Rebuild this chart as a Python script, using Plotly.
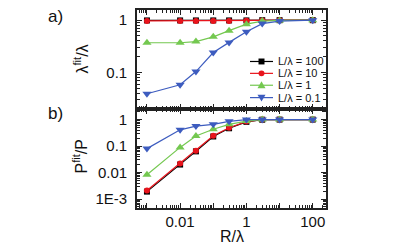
import plotly.graph_objects as go

# ---------------- data ----------------
R = [0.001, 0.01, 0.03, 0.1, 0.3, 1, 3, 10, 100]
series_names = ["L/λ = 100", "L/λ = 10", "L/λ = 1", "L/λ = 0.1"]

lam_100 = [0.99, 0.99, 0.99, 0.99, 0.99, 0.99, 1.0, 1.0, 1.0]
lam_10 = [0.97, 0.97, 0.97, 0.97, 0.97, 0.98, 0.99, 1.0, 1.0]
lam_1 = [0.37, 0.37, 0.39, 0.48, 0.63, 0.84, 0.96, 0.99, 1.0]
lam_01 = [0.039, 0.058, 0.104, 0.24, 0.376, 0.6, 0.86, 0.96, 1.0]

P_100 = [0.0019, 0.020, 0.063, 0.23, 0.47, 0.82, 0.99, 1.0, 1.0]
P_10 = [0.0021, 0.022, 0.067, 0.245, 0.49, 0.84, 1.0, 1.0, 1.0]
P_1 = [0.0083, 0.089, 0.24, 0.43, 0.66, 0.88, 1.0, 1.0, 1.0]
P_01 = [0.08, 0.41, 0.57, 0.66, 0.86, 1.0, 1.0, 1.0, 1.0]

x_major = [0.001, 0.01, 0.1, 1, 10, 100]
x_labelvals = [0.01, 1, 100]
x_labeltext = ["0.01", "1", "100"]
ytop_tickvals = [0.1, 1]
ytop_ticktext = ["0.1", "1"]
ybot_tickvals = [0.001, 0.01, 0.1, 1]
ybot_ticktext = ["1E-3", "0.01", "0.1", "1"]

# ---------------- style ----------------
colors = ["#000000", "#e8141c", "#74c850", "#3d5cbf"]
symbols = ["square", "circle", "triangle-up", "triangle-down"]
msizes = [6, 6, 8, 8]
FONT = "Arial, Liberation Sans, sans-serif"
AX = "#222222"

OFF = 8  # page body margin offset
W, H = 415 - OFF, 248 - OFF
ML, MT = 137 - OFF, 8 - OFF
PW, PH = 189, 200
MR, MB = W - ML - PW, H - MT - PH


def px(xp):  # window pixel -> paper
    return (xp - OFF - ML) / PW


def py(yp):
    return (MT + PH - (yp - OFF)) / PH


fig = go.Figure()
top_series = [lam_100, lam_10, lam_1, lam_01]
bot_series = [P_100, P_10, P_1, P_01]
for i in range(4):
    fig.add_trace(go.Scatter(
        x=R, y=top_series[i], mode="lines+markers", name=series_names[i],
        line=dict(color=colors[i], width=1.2),
        marker=dict(symbol=symbols[i], size=msizes[i], color=colors[i],
                    line=dict(width=0)),
        xaxis="x", yaxis="y", showlegend=False))
for i in range(4):
    fig.add_trace(go.Scatter(
        x=R, y=bot_series[i], mode="lines+markers", name=series_names[i],
        line=dict(color=colors[i], width=1.2),
        marker=dict(symbol=symbols[i], size=msizes[i], color=colors[i],
                    line=dict(width=0)),
        xaxis="x2", yaxis="y2", showlegend=False))

common_axis = dict(
    type="log", showgrid=False, zeroline=False, showline=True,
    linecolor=AX, linewidth=1.6, mirror="ticks",
    ticks="inside", ticklen=5, tickwidth=1.2, tickcolor=AX,
    minor=dict(ticks="inside", ticklen=3, tickwidth=1, tickcolor=AX,
               showgrid=False, dtick="D1"),
    tickfont=dict(family=FONT, size=15, color="#111111"),
)

fig.update_layout(
    width=W, height=H,
    margin=dict(l=ML, r=MR, t=MT, b=MB, pad=0),
    paper_bgcolor="white", plot_bgcolor="white",
    showlegend=False,
    xaxis=dict(common_axis, domain=[0, 1], anchor="y", range=[-3.3, 2.4],
               tickmode="array", tickvals=x_major, showticklabels=False),
    yaxis=dict(common_axis, domain=[0.5, 1], anchor="x", range=[-1.70, 0.195],
               tickmode="array", tickvals=ytop_tickvals, ticktext=ytop_ticktext,
               ticklabelstandoff=5),
    xaxis2=dict(common_axis, domain=[0, 1], anchor="y2", range=[-3.3, 2.4],
                tickmode="array", tickvals=x_major, showticklabels=False),
    xaxis3=dict(type="log", overlaying="x2", anchor="y2", side="bottom",
                range=[-3.3, 2.4], showgrid=False, zeroline=False, showline=False,
                ticks="", tickmode="array", tickvals=x_labelvals, ticktext=x_labeltext,
                tickfont=dict(family=FONT, size=15, color="#111111"),
                ticklabelstandoff=3),
    yaxis2=dict(common_axis, domain=[0, 0.5], anchor="x2", range=[-3.34, 0.40],
                tickmode="array", tickvals=ybot_tickvals, ticktext=ybot_ticktext,
                ticklabelstandoff=5),
)
# dummy trace to activate label axis (uses the data's own x values)
fig.add_trace(go.Scatter(x=R, y=P_100, mode="none", xaxis="x3", yaxis="y2",
                         showlegend=False, hoverinfo="skip"))

ann = []
ann.append(dict(text="λ<sup>fit</sup>/λ", x=px(81), y=py(58), xref="paper", yref="paper",
                textangle=-90, showarrow=False, font=dict(family=FONT, size=16, color="#111"),
                xanchor="center", yanchor="middle"))
ann.append(dict(text="P<sup>fit</sup>/P", x=px(80), y=py(156), xref="paper", yref="paper",
                textangle=-90, showarrow=False, font=dict(family=FONT, size=16, color="#111"),
                xanchor="center", yanchor="middle"))
ann.append(dict(text="R/λ", x=px(232), y=py(237), xref="paper", yref="paper",
                showarrow=False, font=dict(family=FONT, size=16, color="#111"),
                xanchor="center", yanchor="middle"))
ann.append(dict(text="a)", x=px(55), y=py(15), xref="paper", yref="paper",
                showarrow=False, font=dict(family=FONT, size=17, color="#111"),
                xanchor="center", yanchor="middle"))
ann.append(dict(text="b)", x=px(55), y=py(113), xref="paper", yref="paper",
                showarrow=False, font=dict(family=FONT, size=17, color="#111"),
                xanchor="center", yanchor="middle"))

# manual compact legend
shapes = []
rows = [60, 72, 84, 96.5]
for i in range(4):
    yc = rows[i]
    shapes.append(dict(type="line", xref="paper", yref="paper",
                       x0=px(250), x1=px(273), y0=py(yc), y1=py(yc),
                       line=dict(color=colors[i], width=1.2)))
    mx = 261.5
    s = 3
    if symbols[i] == "square":
        shapes.append(dict(type="rect", xref="paper", yref="paper",
                           x0=px(mx - s), x1=px(mx + s), y0=py(yc - s), y1=py(yc + s),
                           fillcolor=colors[i], line=dict(width=0)))
    elif symbols[i] == "circle":
        shapes.append(dict(type="circle", xref="paper", yref="paper",
                           x0=px(mx - s), x1=px(mx + s), y0=py(yc - s), y1=py(yc + s),
                           fillcolor=colors[i], line=dict(width=0)))
    elif symbols[i] == "triangle-up":
        path = "M %f %f L %f %f L %f %f Z" % (px(mx - 4), py(yc + 3), px(mx + 4), py(yc + 3),
                                              px(mx), py(yc - 4))
        shapes.append(dict(type="path", xref="paper", yref="paper", path=path,
                           fillcolor=colors[i], line=dict(width=0)))
    else:
        path = "M %f %f L %f %f L %f %f Z" % (px(mx - 4), py(yc - 3), px(mx + 4), py(yc - 3),
                                              px(mx), py(yc + 4))
        shapes.append(dict(type="path", xref="paper", yref="paper", path=path,
                           fillcolor=colors[i], line=dict(width=0)))
    ann.append(dict(text=series_names[i], x=px(276), y=py(yc), xref="paper", yref="paper",
                    showarrow=False, font=dict(family=FONT, size=11, color="#111"),
                    xanchor="left", yanchor="middle"))

fig.update_layout(annotations=ann, shapes=shapes)
fig.write_html("out.html")
